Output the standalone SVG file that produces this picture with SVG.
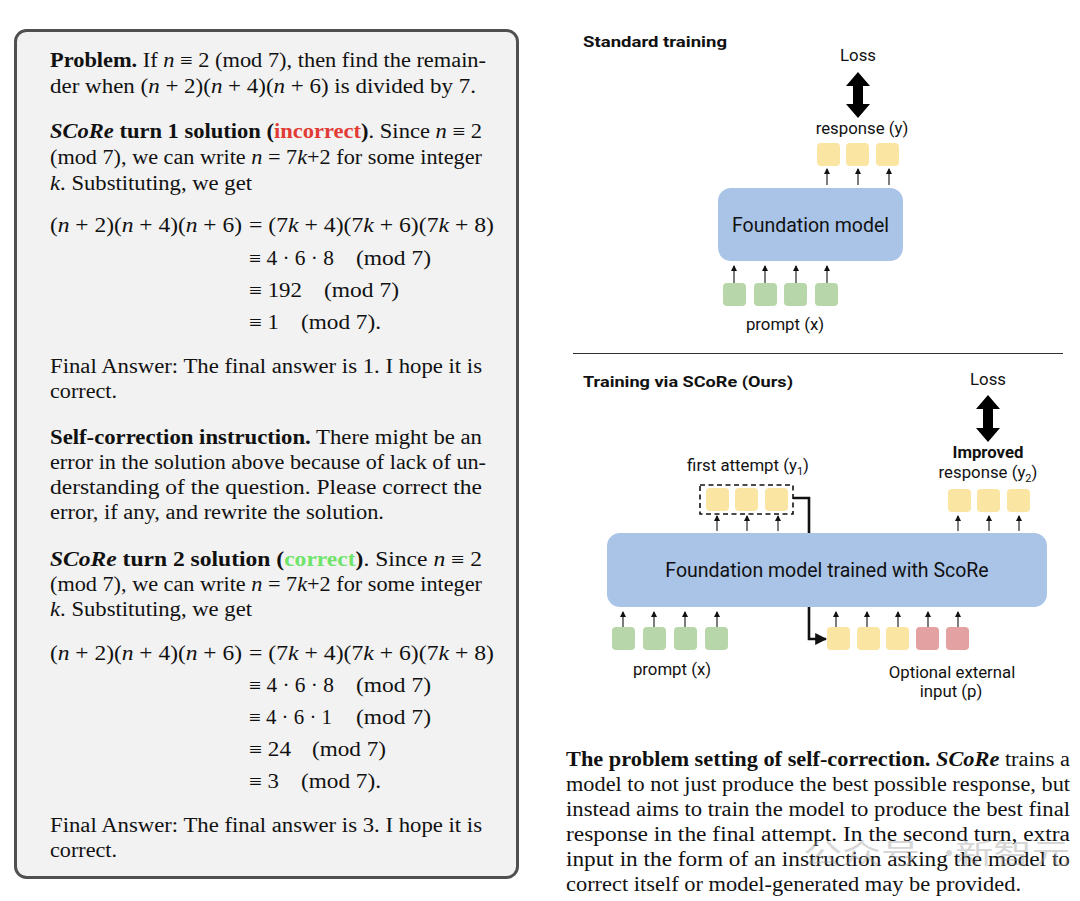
<svg xmlns="http://www.w3.org/2000/svg" width="1080" height="901" viewBox="0 0 1080 901">
<defs>
<style>
.s{font-family:"Liberation Serif","Times New Roman",serif;font-size:20.5px;fill:#111}
.c{font-family:"Liberation Serif","Times New Roman",serif;font-size:20px;fill:#111}
.i{font-style:italic}
.b{font-weight:bold}
.g{font-family:Roboto,"Open Sans","Liberation Sans",sans-serif;fill:#111}
.lab{font-size:16.8px}
.hd{font-size:15.5px;font-weight:bold}
.big{font-size:19.5px}
.tokY{fill:#fbe5a2}
.tokG{fill:#b7d6a9}
.tokR{fill:#e3a2a1}
.fm{fill:#a9c4e7}
.sa{stroke:#111;stroke-width:1.1;fill:none;marker-end:url(#ah)}
</style>
<marker id="ah" viewBox="0 0 6 6" refX="5" refY="3" markerWidth="6" markerHeight="6" markerUnits="userSpaceOnUse" orient="auto">
<path d="M0,0 L6,3 L0,6 z" fill="#111"/>
</marker>
<marker id="ahb" viewBox="0 0 10 10" refX="9" refY="5" markerWidth="12" markerHeight="12" markerUnits="userSpaceOnUse" orient="auto">
<path d="M0,0 L10,5 L0,10 z" fill="#111"/>
</marker>
</defs>
<rect width="1080" height="901" fill="#ffffff"/>

<!-- Left panel -->
<g id="example-panel">
<rect x="15.5" y="30.5" width="502" height="847" rx="11" fill="#f2f2f2" stroke="#505050" stroke-width="3"/>
<text class="s" x="50" y="67" textLength="436" lengthAdjust="spacingAndGlyphs"><tspan class="b">Problem.</tspan> If <tspan class="i">n</tspan> ≡ 2  (mod 7), then find the remain-</text>
<text class="s" x="50" y="93" textLength="426" lengthAdjust="spacingAndGlyphs">der when (<tspan class="i">n</tspan> + 2)(<tspan class="i">n</tspan> + 4)(<tspan class="i">n</tspan> + 6) is divided by 7.</text>

<text class="s" x="50" y="138" textLength="432" lengthAdjust="spacingAndGlyphs"><tspan class="b i">SCoRe</tspan><tspan class="b"> turn 1 solution (</tspan><tspan class="b" fill="#e23b35">incorrect</tspan><tspan class="b">)</tspan>. Since <tspan class="i">n</tspan> ≡ 2</text>
<text class="s" x="50" y="164" textLength="432" lengthAdjust="spacingAndGlyphs">(mod 7), we can write <tspan class="i">n</tspan> = 7<tspan class="i">k</tspan>+2 for some integer</text>
<text class="s" x="50" y="190" textLength="202" lengthAdjust="spacingAndGlyphs"><tspan class="i">k</tspan>. Substituting, we get</text>

<text class="s" x="50" y="232" textLength="192" lengthAdjust="spacingAndGlyphs">(<tspan class="i">n</tspan> + 2)(<tspan class="i">n</tspan> + 4)(<tspan class="i">n</tspan> + 6)</text>
<text class="s" x="249" y="232" textLength="245" lengthAdjust="spacingAndGlyphs">= (7<tspan class="i">k</tspan> + 4)(7<tspan class="i">k</tspan> + 6)(7<tspan class="i">k</tspan> + 8)</text>
<text class="s" x="249" y="265" textLength="85" lengthAdjust="spacingAndGlyphs">≡ 4 · 6 · 8</text>
<text class="s" x="356" y="265" textLength="75" lengthAdjust="spacingAndGlyphs">(mod 7)</text>
<text class="s" x="249" y="297" textLength="53" lengthAdjust="spacingAndGlyphs">≡ 192</text>
<text class="s" x="324" y="297" textLength="75" lengthAdjust="spacingAndGlyphs">(mod 7)</text>
<text class="s" x="249" y="329" textLength="30" lengthAdjust="spacingAndGlyphs">≡ 1</text>
<text class="s" x="301" y="329" textLength="80" lengthAdjust="spacingAndGlyphs">(mod 7).</text>

<text class="s" x="50" y="373" textLength="432" lengthAdjust="spacingAndGlyphs">Final Answer: The final answer is 1. I hope it is</text>
<text class="s" x="50" y="398" textLength="67" lengthAdjust="spacingAndGlyphs">correct.</text>

<text class="s" x="50" y="444" textLength="432" lengthAdjust="spacingAndGlyphs"><tspan class="b">Self-correction instruction.</tspan> There might be an</text>
<text class="s" x="50" y="469" textLength="436" lengthAdjust="spacingAndGlyphs">error in the solution above because of lack of un-</text>
<text class="s" x="50" y="494" textLength="432" lengthAdjust="spacingAndGlyphs">derstanding of the question.  Please correct the</text>
<text class="s" x="50" y="519" textLength="334" lengthAdjust="spacingAndGlyphs">error, if any, and rewrite the solution.</text>

<text class="s" x="50" y="566" textLength="432" lengthAdjust="spacingAndGlyphs"><tspan class="b i">SCoRe</tspan><tspan class="b"> turn 2 solution (</tspan><tspan class="b" fill="#6fe46a">correct</tspan><tspan class="b">)</tspan>.  Since <tspan class="i">n</tspan> ≡ 2</text>
<text class="s" x="50" y="591" textLength="432" lengthAdjust="spacingAndGlyphs">(mod 7), we can write <tspan class="i">n</tspan> = 7<tspan class="i">k</tspan>+2 for some integer</text>
<text class="s" x="50" y="616" textLength="202" lengthAdjust="spacingAndGlyphs"><tspan class="i">k</tspan>. Substituting, we get</text>

<text class="s" x="50" y="660" textLength="192" lengthAdjust="spacingAndGlyphs">(<tspan class="i">n</tspan> + 2)(<tspan class="i">n</tspan> + 4)(<tspan class="i">n</tspan> + 6)</text>
<text class="s" x="249" y="660" textLength="245" lengthAdjust="spacingAndGlyphs">= (7<tspan class="i">k</tspan> + 4)(7<tspan class="i">k</tspan> + 6)(7<tspan class="i">k</tspan> + 8)</text>
<text class="s" x="249" y="692" textLength="85" lengthAdjust="spacingAndGlyphs">≡ 4 · 6 · 8</text>
<text class="s" x="356" y="692" textLength="75" lengthAdjust="spacingAndGlyphs">(mod 7)</text>
<text class="s" x="249" y="724" textLength="83" lengthAdjust="spacingAndGlyphs">≡ 4 · 6 · 1</text>
<text class="s" x="356" y="724" textLength="75" lengthAdjust="spacingAndGlyphs">(mod 7)</text>
<text class="s" x="249" y="756" textLength="42" lengthAdjust="spacingAndGlyphs">≡ 24</text>
<text class="s" x="312" y="756" textLength="74" lengthAdjust="spacingAndGlyphs">(mod 7)</text>
<text class="s" x="249" y="788" textLength="30" lengthAdjust="spacingAndGlyphs">≡ 3</text>
<text class="s" x="301" y="788" textLength="80" lengthAdjust="spacingAndGlyphs">(mod 7).</text>

<text class="s" x="50" y="832" textLength="432" lengthAdjust="spacingAndGlyphs">Final Answer: The final answer is 3. I hope it is</text>
<text class="s" x="50" y="857" textLength="67" lengthAdjust="spacingAndGlyphs">correct.</text>
</g>

<!-- Standard training -->
<g id="standard-title">
<text class="g hd" x="583" y="47" textLength="144" lengthAdjust="spacingAndGlyphs">Standard training</text>
</g>
<g id="std-loss">
<text class="g lab" x="858" y="61" text-anchor="middle">Loss</text>
<polygon points="858,72 870,86 863,86 863,104 870,104 858,118 846,104 853,104 853,86 846,86" fill="#000"/>
</g>
<g id="std-response">
<text class="g lab" x="862" y="134" text-anchor="middle">response (y)</text>
<rect class="tokY" x="817" y="143" width="23" height="23" rx="4"/>
<rect class="tokY" x="846" y="143" width="23" height="23" rx="4"/>
<rect class="tokY" x="876" y="143" width="23" height="23" rx="4"/>
</g>
<g id="std-model">
<rect class="fm" x="718" y="188" width="185" height="73" rx="13"/>
<text class="g big" x="810.5" y="232" text-anchor="middle">Foundation model</text>
</g>
<g id="std-prompt">
<rect class="tokG" x="723" y="283" width="23" height="23" rx="4"/>
<rect class="tokG" x="754" y="283" width="23" height="23" rx="4"/>
<rect class="tokG" x="784" y="283" width="23" height="23" rx="4"/>
<rect class="tokG" x="815" y="283" width="23" height="23" rx="4"/>
<text class="g lab" x="785" y="330" text-anchor="middle">prompt (x)</text>
</g>

<line x1="573" y1="353.5" x2="1063" y2="353.5" stroke="#333" stroke-width="1"/>

<!-- SCoRe training -->
<g id="score-title">
<text class="g hd" x="583" y="387" textLength="210" lengthAdjust="spacingAndGlyphs">Training via SCoRe (Ours)</text>
</g>
<g id="score-loss">
<text class="g lab" x="988" y="385" text-anchor="middle">Loss</text>
<polygon points="988,395 1000,409 993,409 993,428 1000,428 988,442 976,428 983,428 983,409 976,409" fill="#000"/>
</g>
<g id="score-improved">
<text class="g lab" x="988" y="458" text-anchor="middle" font-weight="bold">Improved</text>
<text class="g lab" x="988" y="478" text-anchor="middle">response (y<tspan font-size="11" dy="4">2</tspan><tspan dy="-4">)</tspan></text>
<rect class="tokY" x="948" y="489" width="23" height="23" rx="4"/>
<rect class="tokY" x="977" y="489" width="23" height="23" rx="4"/>
<rect class="tokY" x="1007" y="489" width="23" height="23" rx="4"/>
</g>
<g id="score-first-attempt">
<text class="g lab" x="748" y="471" text-anchor="middle">first attempt (y<tspan font-size="11" dy="4">1</tspan><tspan dy="-4">)</tspan></text>
<rect x="700" y="485" width="93" height="29" fill="none" stroke="#111" stroke-width="1.6" stroke-dasharray="5,3.5"/>
<rect class="tokY" x="706" y="488" width="23" height="23" rx="4"/>
<rect class="tokY" x="735" y="488" width="23" height="23" rx="4"/>
<rect class="tokY" x="765" y="488" width="23" height="23" rx="4"/>
</g>

<!-- connectors -->
<g id="connectors">
<line class="sa" x1="827" y1="185" x2="827" y2="169"/>
<line class="sa" x1="858" y1="185" x2="858" y2="169"/>
<line class="sa" x1="889" y1="185" x2="889" y2="169"/>
<line class="sa" x1="734" y1="283" x2="734" y2="266"/>
<line class="sa" x1="765" y1="283" x2="765" y2="266"/>
<line class="sa" x1="796" y1="283" x2="796" y2="266"/>
<line class="sa" x1="827" y1="283" x2="827" y2="266"/>

<line class="sa" x1="717" y1="531" x2="717" y2="516"/>
<line class="sa" x1="747" y1="531" x2="747" y2="516"/>
<line class="sa" x1="778" y1="531" x2="778" y2="516"/>
<line class="sa" x1="958" y1="531" x2="958" y2="516"/>
<line class="sa" x1="989" y1="531" x2="989" y2="516"/>
<line class="sa" x1="1019" y1="531" x2="1019" y2="516"/>

<line class="sa" x1="623" y1="627" x2="623" y2="612"/>
<line class="sa" x1="654" y1="627" x2="654" y2="612"/>
<line class="sa" x1="685" y1="627" x2="685" y2="612"/>
<line class="sa" x1="717" y1="627" x2="717" y2="612"/>
<line class="sa" x1="836" y1="627" x2="836" y2="612"/>
<line class="sa" x1="867" y1="627" x2="867" y2="612"/>
<line class="sa" x1="898" y1="627" x2="898" y2="612"/>
<line class="sa" x1="928" y1="627" x2="928" y2="612"/>
<line class="sa" x1="958" y1="627" x2="958" y2="612"/>

<path d="M793,498 H809 V540" fill="none" stroke="#111" stroke-width="2.6"/>
<path d="M809,600 V639 H826" fill="none" stroke="#111" stroke-width="2.6" marker-end="url(#ahb)"/>
</g>

<g id="score-model">
<rect class="fm" x="607" y="533" width="440" height="74" rx="13"/>
<text class="g big" x="827" y="577" text-anchor="middle">Foundation model trained with ScoRe</text>
</g>
<g id="score-prompt">
<rect class="tokG" x="612" y="627" width="23" height="23" rx="4"/>
<rect class="tokG" x="643" y="627" width="23" height="23" rx="4"/>
<rect class="tokG" x="674" y="627" width="23" height="23" rx="4"/>
<rect class="tokG" x="705" y="627" width="23" height="23" rx="4"/>
<text class="g lab" x="672" y="675" text-anchor="middle">prompt (x)</text>
</g>
<g id="score-input">
<rect class="tokY" x="827" y="627" width="23" height="23" rx="4"/>
<rect class="tokY" x="857" y="627" width="23" height="23" rx="4"/>
<rect class="tokY" x="886" y="627" width="23" height="23" rx="4"/>
<rect class="tokR" x="916" y="627" width="23" height="23" rx="4"/>
<rect class="tokR" x="946" y="627" width="23" height="23" rx="4"/>
<text class="g lab" x="952" y="678" text-anchor="middle">Optional external</text>
<text class="g lab" x="951" y="697" text-anchor="middle">input (p)</text>
</g>

<!-- Caption -->
<g id="caption">
<text class="c" x="566" y="766" textLength="504" lengthAdjust="spacingAndGlyphs"><tspan class="b">The problem setting of self-correction.</tspan> <tspan class="b i">SCoRe</tspan> trains a</text>
<text class="c" x="566" y="791" textLength="504" lengthAdjust="spacingAndGlyphs">model to not just produce the best possible response, but</text>
<text class="c" x="566" y="816" textLength="504" lengthAdjust="spacingAndGlyphs">instead aims to train the model to produce the best final</text>
<text class="c" x="566" y="841" textLength="504" lengthAdjust="spacingAndGlyphs">response in the final attempt. In the second turn, extra</text>
<text class="c" x="566" y="866" textLength="504" lengthAdjust="spacingAndGlyphs">input in the form of an instruction asking the model to</text>
<text class="c" x="566" y="891" textLength="455" lengthAdjust="spacingAndGlyphs">correct itself or model-generated may be provided.</text>
</g>
<g id="watermark" opacity="0.4">
<text x="803" y="864" font-family="'Noto Sans CJK SC',sans-serif" font-size="28" fill="#9a9a9a" textLength="117" lengthAdjust="spacingAndGlyphs">公众号</text>
<text x="935" y="864" font-family="'Noto Sans CJK SC',sans-serif" font-size="28" fill="#9a9a9a">·</text>
<text x="955" y="864" font-family="'Noto Sans CJK SC',sans-serif" font-size="28" fill="#9a9a9a" textLength="115" lengthAdjust="spacingAndGlyphs">新智元</text>
</g>
</svg>
